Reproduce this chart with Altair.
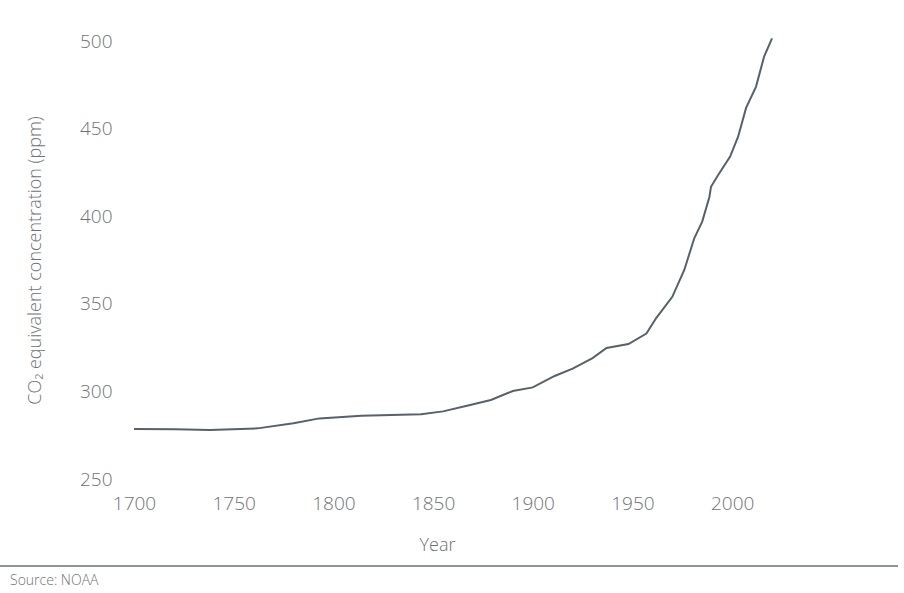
import altair as alt
import pandas as pd

years = [1700, 1721, 1738, 1762, 1780, 1793, 1814, 1844, 1855, 1867, 1879, 1890,
         1900, 1911, 1920, 1930, 1937, 1948, 1957, 1962, 1970, 1976, 1981, 1985,
         1988.6, 1989.4, 1993, 1999, 2003, 2007, 2012, 2016, 2020]
ppm = [278.5, 278.4, 278.0, 278.9, 281.8, 284.6, 286.1, 286.9, 288.6, 291.8, 295.1, 300.2,
       302.3, 308.8, 313.0, 319.0, 324.8, 327.0, 333.0, 342.0, 354.0, 369.3, 387.4, 396.9,
       411.0, 416.8, 423.5, 434.0, 445.4, 461.8, 474.0, 491.0, 501.5]
x_ticks = [1700, 1750, 1800, 1850, 1900, 1950, 2000]
y_ticks = [250, 300, 350, 400, 450, 500]

df = pd.DataFrame({"Year": years, "ppm": ppm})

FONT = "Open Sans"
GREY = "#6f7275"

line = alt.Chart(df).mark_line(color="#56616b", strokeWidth=2).encode(
    x=alt.X("Year:Q",
            scale=alt.Scale(domain=[1700, 2020], nice=False, zero=False),
            axis=alt.Axis(values=x_ticks, format="d", title="Year",
                          domain=False, ticks=False, grid=False, labelFlush=False,
                          labelOverlap=False,
                          labelFont=FONT, labelFontSize=19, labelFontWeight=300,
                          labelColor=GREY, labelPadding=15,
                          titleFont=FONT, titleFontSize=18, titleFontWeight=300,
                          titleColor=GREY, titleX=303, titleY=66,
                          titleBaseline="middle", titleAlign="center")),
    y=alt.Y("ppm:Q",
            scale=alt.Scale(domain=[250, 500], nice=False, zero=False),
            axis=alt.Axis(values=y_ticks, title="CO₂ equivalent concentration (ppm)",
                          domain=False, ticks=False, grid=False, labelFlush=False,
                          labelOverlap=False,
                          labelFont=FONT, labelFontSize=19, labelFontWeight=300,
                          labelColor=GREY, labelPadding=22,
                          titleFont=FONT, titleFontSize=18, titleFontWeight=300,
                          titleColor=GREY, titleX=-99, titleY=219, titleAngle=270,
                          titleBaseline="middle", titleAlign="center")),
)

rule = alt.Chart(df).mark_rule(color="#8c959c", strokeWidth=1.5).encode(
    x=alt.value(-134), x2=alt.value(764), y=alt.value(525)
)

source = alt.Chart(pd.DataFrame({"t": ["Source: NOAA"]})).mark_text(
    font=FONT, fontSize=14, fontWeight=300, color=GREY, align="left", baseline="middle"
).encode(text="t:N", x=alt.value(-124), y=alt.value(540))

chart = alt.layer(line, rule, source).properties(
    width=638, height=438,
    autosize=alt.AutoSizeParams(type="none"),
    padding={"left": 134, "top": 41, "right": 132, "bottom": 114},
).configure_view(stroke=None)

chart.save("out.html", embed_options={"renderer": "svg", "actions": False})
